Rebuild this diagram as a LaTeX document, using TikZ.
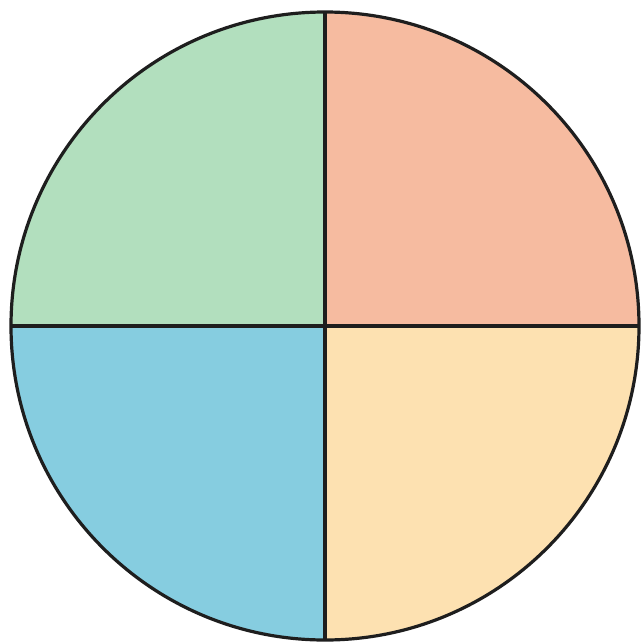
\documentclass[tikz,border=0pt]{standalone}
\definecolor{qgreen}{HTML}{B2DFBE}
\definecolor{qsalmon}{HTML}{F6BBA0}
\definecolor{qblue}{HTML}{86CDE0}
\definecolor{qyellow}{HTML}{FDE1B1}
\definecolor{qline}{HTML}{1E1E1E}
\begin{document}
\begin{tikzpicture}[x=1pt,y=-1pt,edge/.style={draw=qline,line width=3.2pt}]
\useasboundingbox (0,0) rectangle (643,643);
\coordinate (c) at (325,326);
\def\R{314}
\fill[qsalmon] (c) -- ++(0:\R) arc[start angle=0,end angle=-90,radius=\R] -- cycle;
\fill[qgreen] (c) -- ++(-90:\R) arc[start angle=-90,end angle=-180,radius=\R] -- cycle;
\fill[qblue] (c) -- ++(180:\R) arc[start angle=180,end angle=90,radius=\R] -- cycle;
\fill[qyellow] (c) -- ++(90:\R) arc[start angle=90,end angle=0,radius=\R] -- cycle;
\coordinate (l) at (325-314,326);
\coordinate (r) at (325+314,326);
\coordinate (t) at (325,326-314);
\coordinate (b) at (325,326+314);
\draw[edge] (l) -- (r);
\draw[edge] (t) -- (b);
\draw[edge] (c) circle[radius=\R];
\end{tikzpicture}
\end{document}
